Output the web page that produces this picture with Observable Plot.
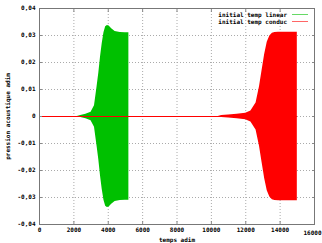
<!DOCTYPE html>
<html>
<head>
<meta charset="utf-8">
<script src="https://cdn.jsdelivr.net/npm/d3@7"></script>
<script src="https://cdn.jsdelivr.net/npm/@observablehq/plot@0.6"></script>
<style>
  html, body { margin: 0; padding: 0; background: #fff; }
  #wrap { position: relative; width: 322px; height: 243px; }
  #legend { position: absolute; left: 0; top: 0; width: 322px; height: 30px; font: bold 6px "DejaVu Sans Mono", monospace; color: #000; }
  .row { position: absolute; right: 35px; display: flex; align-items: center; white-space: pre; }
  .sw { display: inline-block; width: 16px; height: 1px; margin-left: 5px; }
</style>
</head>
<body>
<div id="wrap"><div id="legend"></div></div>
<script>
// Envelope of the oscillating acoustic pressure
const seriesNames = ["initial temp linear", "initial temp conduc"];
const seriesColors = ["#00c000", "#ff0000"];

const linearT   = [2200, 2400, 2700, 3000, 3200, 3350, 3450, 3550, 3650, 3750, 3850, 3950, 4050, 4200, 4400, 4700, 5000, 5200];
const linearAmp = [0, 0.0004, 0.0008, 0.0016, 0.004, 0.011, 0.016, 0.022, 0.027, 0.031, 0.0332, 0.0337, 0.0335, 0.0325, 0.0315, 0.0311, 0.031, 0.031];

const conducT   = [10400, 10600, 11000, 11500, 12000, 12300, 12600, 12800, 12950, 13100, 13250, 13400, 13550, 13700, 13900, 14200, 14600, 15000];
const conducAmp = [0, 0.0004, 0.0006, 0.0008, 0.0012, 0.002, 0.005, 0.011, 0.017, 0.023, 0.0275, 0.0298, 0.0308, 0.0311, 0.0312, 0.0312, 0.0312, 0.0312];

const conducStart = 0, conducEnd = 15000;

const xTicks = [0, 2000, 4000, 6000, 8000, 10000, 12000, 14000];
const xTickLast = [16000];
const yTicks = [-0.04, -0.03, -0.02, -0.01, 0, 0.01, 0.02, 0.03, 0.04];

const linear = linearT.map((t, i) => ({t, lo: -linearAmp[i], hi: linearAmp[i]}));
const conduc = conducT.map((t, i) => ({t, lo: -conducAmp[i], hi: conducAmp[i]}));

const fmtY = d => d === 0 ? "0" : d3.format(".2f")(d).replace(".", ",").replace("−", "-");
const fmtX = d => String(d);

const chart = Plot.plot({
  width: 322,
  height: 243,
  marginLeft: 39,
  marginRight: 8,
  marginTop: 8,
  marginBottom: 19,
  style: {fontFamily: "'DejaVu Sans Mono', monospace", fontSize: "6px", fontWeight: "bold", background: "#fff", color: "#000"},
  x: {domain: [0, 16000]},
  y: {domain: [-0.04, 0.04]},
  marks: [
    Plot.gridX(xTicks.concat(xTickLast), {stroke: "#aaa", strokeOpacity: 1, strokeDasharray: "1,2"}),
    Plot.gridY(yTicks, {stroke: "#aaa", strokeOpacity: 1, strokeDasharray: "1,2"}),
    Plot.areaY(linear, {x: "t", y1: "lo", y2: "hi", fill: seriesColors[0], curve: "linear"}),
    Plot.areaY(conduc, {x: "t", y1: "lo", y2: "hi", fill: seriesColors[1], curve: "linear"}),
    Plot.ruleY([0], {x1: conducStart, x2: conducEnd, stroke: seriesColors[1], strokeWidth: 1.2}),
    Plot.axisX(xTicks, {tickFormat: fmtX, tickSize: -3, tickPadding: 6, stroke: "#888", label: "temps adim", labelAnchor: "center", labelArrow: "none", labelOffset: 17}),
    Plot.axisX(xTickLast, {tickFormat: fmtX, tickSize: 0, tickPadding: 6, dx: -2, label: null}),
    Plot.axisX(xTicks.concat(xTickLast), {anchor: "top", tickFormat: () => "", tickSize: -3, stroke: "#888", label: null}),
    Plot.axisY(yTicks, {tickFormat: fmtY, tickSize: -3, tickPadding: 7, stroke: "#888", label: "pression acoustique adim", labelAnchor: "center", labelArrow: "none", labelOffset: 34}),
    Plot.axisY(yTicks, {anchor: "right", tickFormat: () => "", tickSize: -3, stroke: "#888", label: null}),
    Plot.frame({stroke: "#777"})
  ]
});
document.getElementById("wrap").prepend(chart);

const legend = document.getElementById("legend");
seriesNames.forEach((name, i) => {
  const row = document.createElement("div");
  row.className = "row";
  row.style.top = (11 + i * 7) + "px";
  row.style.right = "14px";
  const label = document.createElement("span");
  label.textContent = name;
  const sw = document.createElement("span");
  sw.className = "sw";
  sw.style.background = seriesColors[i];
  sw.style.opacity = "0.6";
  row.append(label, sw);
  legend.append(row);
});
</script>
</body>
</html>
